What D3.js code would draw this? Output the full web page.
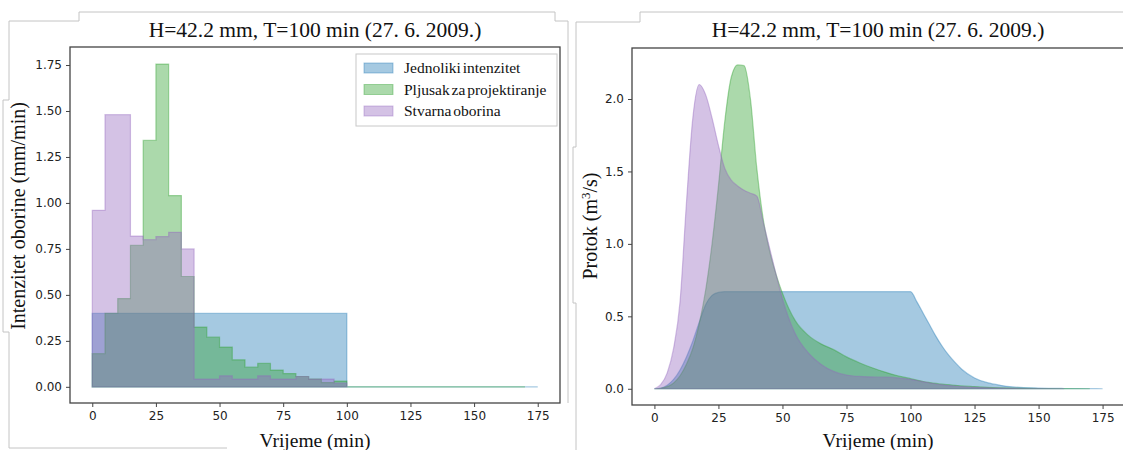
<!DOCTYPE html>
<html>
<head>
<meta charset="utf-8">
<script src="https://cdn.jsdelivr.net/npm/d3@7"></script>
<style>
  body { margin: 0; background: #fff; }
  svg { display: block; }
</style>
</head>
<body>
<div id="chart"></div>
<script>
// two panels: rainfall hyetographs (left) and runoff hydrographs (right)
const chartWidth = 1123;
const chartHeight = 450;

const seriesNames = ["Jednoliki intenzitet", "Pljusak za projektiranje", "Stvarna oborina"];
const seriesColors = ["#1f77b4", "#2ca02c", "#9467bd"];
const titleText = "H=42.2 mm, T=100 min (27. 6. 2009.)";

// rainfall, 5 min blocks starting at these times (mm/min)
const rainTime = [0, 5, 10, 15, 20, 25, 30, 35, 40, 45, 50, 55, 60, 65, 70, 75, 80, 85, 90, 95];
const rainUniform = [0.40, 0.40, 0.40, 0.40, 0.40, 0.40, 0.40, 0.40, 0.40, 0.40,
                     0.40, 0.40, 0.40, 0.40, 0.40, 0.40, 0.40, 0.40, 0.40, 0.40];
const rainDesign = [0.18, 0.40, 0.48, 0.77, 1.34, 1.755, 1.04, 0.60, 0.325, 0.27,
                    0.216, 0.147, 0.107, 0.127, 0.091, 0.072, 0.056, 0.042, 0.023, 0.031];
const rainObserved = [0.96, 1.48, 1.48, 0.82, 0.80, 0.817, 0.84, 0.75, 0.042, 0.042,
                      0.06, 0.042, 0.042, 0.06, 0.042, 0.042, 0.056, 0.042, 0.042, 0.02];
// where each zero tail ends (min)
const rainEnd = [175, 170, 100];

// runoff (m3/s)
const flowTime = [0, 2.5, 5, 7.5, 10, 12.5, 15, 17.5, 20, 22.5, 25, 27.5, 30, 32.5, 35, 37.5, 40, 42.5, 45, 47.5,
                  50, 55, 60, 65, 70, 75, 80, 85, 90, 95, 100, 102.5, 105, 107.5, 110, 112.5, 115, 117.5, 120,
                  125, 130, 135, 140, 150, 160, 170, 175];
const flowUniform = [0, 0.005, 0.025, 0.065, 0.13, 0.22, 0.33, 0.46, 0.58, 0.645, 0.665, 0.67, 0.67, 0.67, 0.67, 0.67, 0.67, 0.67, 0.67, 0.67,
                     0.67, 0.67, 0.67, 0.67, 0.67, 0.67, 0.67, 0.67, 0.67, 0.67, 0.67, 0.60, 0.52, 0.44, 0.36, 0.29, 0.23, 0.18, 0.135,
                     0.075, 0.042, 0.024, 0.013, 0.005, 0.002, 0.001, 0];
const flowDesign = [0, 0.003, 0.015, 0.04, 0.09, 0.17, 0.28, 0.45, 0.68, 1.0, 1.40, 1.85, 2.15, 2.235, 2.23, 2.0, 1.52, 1.17, 0.95, 0.79,
                    0.66, 0.47, 0.37, 0.31, 0.27, 0.22, 0.18, 0.145, 0.115, 0.09, 0.07, 0.06, 0.05, 0.043, 0.037, 0.032, 0.028, 0.024, 0.02,
                    0.015, 0.01, 0.007, 0.005, 0.002, 0.001, 0, null];
const flowObserved = [0, 0.03, 0.11, 0.28, 0.60, 1.28, 1.87, 2.10, 2.03, 1.87, 1.68, 1.52, 1.44, 1.40, 1.37, 1.35, 1.33, 1.15, 0.97, 0.79,
                      0.62, 0.38, 0.25, 0.17, 0.12, 0.095, 0.085, 0.082, 0.08, 0.075, 0.065, 0.057, 0.048, 0.04, 0.033, 0.027, 0.022, 0.018, 0.015,
                      0.01, 0.007, 0.005, 0.003, 0.001, 0, null, null];

const xTicks = [0, 25, 50, 75, 100, 125, 150, 175];
const rainTicks = [0, 0.25, 0.5, 0.75, 1.0, 1.25, 1.5, 1.75];
const flowTicks = [0, 0.5, 1.0, 1.5, 2.0];

const serif = "'Liberation Serif', 'Times New Roman', serif";
const sans = "'DejaVu Sans', sans-serif";

let svg = d3.select("#chart").append("svg")
            .attr("width", chartWidth)
            .attr("height", chartHeight);

// faint frame lines left over from the document the figures were pasted into
const frameLines = [
  [[9, 21], [79, 21], [79, 12], [555, 12], [555, 21], [568, 21], [568, 403]],
  [[9, 21], [9, 100], [3, 100], [3, 332], [9, 332], [9, 448], [227, 448]],
  [[1123, 12], [640, 12], [640, 22], [576, 22], [576, 147], [573, 147], [573, 303], [576, 303], [576, 450]]
];
svg.selectAll("polyline.frame")
   .data(frameLines)
   .enter().append("polyline")
   .attr("class", "frame")
   .attr("points", d => d.map(p => p.join(",")).join(" "))
   .style("fill", "none")
   .style("stroke", "#c4c4c4")
   .style("stroke-width", 1);

// scales
let xLeft = d3.scaleLinear().domain([-8.75, 183.75]).range([70, 560]);
let yLeft = d3.scaleLinear().domain([-0.088, 1.848]).range([403, 47]);
let xRight = d3.scaleLinear().domain([-8.75, 183.75]).range([632, 1125]);
let yRight = d3.scaleLinear().domain([-0.112, 2.352]).range([405, 48]);

// rainfall steps: block values, then zero until the series ends
function rainRows(values, end) {
  let rows = rainTime.map((t, i) => ({t: t, v: values[i]}));
  rows.push({t: 100, v: 0});
  if (end > 100) rows.push({t: end, v: 0});
  return rows;
}

const rainSeries = [rainUniform, rainDesign, rainObserved];
const flowSeries = [flowUniform, flowDesign, flowObserved];

let leftPlot = svg.append("g");
rainSeries.forEach(function(values, i) {
  let area = d3.area()
               .curve(d3.curveStepAfter)
               .x(d => xLeft(d.t))
               .y0(yLeft(0))
               .y1(d => yLeft(d.v));
  leftPlot.append("path")
          .datum(rainRows(values, rainEnd[i]))
          .attr("d", area)
          .style("fill", seriesColors[i])
          .style("fill-opacity", 0.4)
          .style("stroke", seriesColors[i])
          .style("stroke-opacity", 0.4)
          .style("stroke-width", 1.2);
});

let rightPlot = svg.append("g");
flowSeries.forEach(function(values, i) {
  let rows = flowTime.map((t, k) => ({t: t, v: values[k]})).filter(d => d.v !== null);
  let area = d3.area()
               .curve(d3.curveMonotoneX)
               .x(d => xRight(d.t))
               .y0(yRight(0))
               .y1(d => yRight(d.v));
  rightPlot.append("path")
           .datum(rows)
           .attr("d", area)
           .style("fill", seriesColors[i])
           .style("fill-opacity", 0.4)
           .style("stroke", seriesColors[i])
           .style("stroke-opacity", 0.4)
           .style("stroke-width", 1.2);
});

// axes
function styleAxis(g) {
  g.select(".domain").remove();
  g.selectAll(".tick line").style("stroke", "#444").style("stroke-width", 1);
  g.selectAll(".tick text")
   .style("font-family", sans)
   .style("font-size", "12px")
   .style("fill", "#222");
}

svg.append("g")
   .attr("transform", "translate(0,403)")
   .call(d3.axisBottom(xLeft).tickValues(xTicks).tickSize(4).tickPadding(4))
   .call(styleAxis);
svg.append("g")
   .attr("transform", "translate(70,0)")
   .call(d3.axisLeft(yLeft).tickValues(rainTicks).tickFormat(d3.format(".2f")).tickSize(4).tickPadding(4))
   .call(styleAxis);
svg.append("g")
   .attr("transform", "translate(0,405)")
   .call(d3.axisBottom(xRight).tickValues(xTicks).tickSize(4).tickPadding(4))
   .call(styleAxis);
svg.append("g")
   .attr("transform", "translate(632,0)")
   .call(d3.axisLeft(yRight).tickValues(flowTicks).tickFormat(d3.format(".1f")).tickSize(4).tickPadding(4))
   .call(styleAxis);

// spines
svg.append("rect")
   .attr("x", 70).attr("y", 47).attr("width", 490).attr("height", 356)
   .style("fill", "none").style("stroke", "#444").style("stroke-width", 1.3);
svg.append("rect")
   .attr("x", 632).attr("y", 48).attr("width", 493).attr("height", 357)
   .style("fill", "none").style("stroke", "#444").style("stroke-width", 1.3);

// titles and labels
[315, 878].forEach(function(cx) {
  svg.append("text")
     .attr("x", cx).attr("y", 37)
     .attr("text-anchor", "middle")
     .style("font-family", serif).style("font-size", "21.5px").style("fill", "#111")
     .text(titleText);
  svg.append("text")
     .attr("x", cx).attr("y", 447)
     .attr("text-anchor", "middle")
     .style("font-family", serif).style("font-size", "19.5px").style("fill", "#111")
     .text("Vrijeme (min)");
});

svg.append("text")
   .attr("transform", "translate(25,216) rotate(-90)")
   .attr("text-anchor", "middle")
   .style("font-family", serif).style("font-size", "20px").style("fill", "#111")
   .text("Intenzitet oborine (mm/min)");

let flowLabel = svg.append("text")
   .attr("transform", "translate(597,226) rotate(-90)")
   .attr("text-anchor", "middle")
   .style("font-family", serif).style("font-size", "20px").style("fill", "#111");
flowLabel.append("tspan").text("Protok (m");
flowLabel.append("tspan").attr("dy", -7).style("font-size", "13px").text("3");
flowLabel.append("tspan").attr("dy", 7).text("/s)");

// legend
let legend = svg.append("g").attr("transform", "translate(356,54)");
legend.append("rect")
      .attr("width", 201).attr("height", 72)
      .style("fill", "#fff").style("stroke", "#c8c8c8").style("stroke-width", 1);
let legendItem = legend.selectAll("g.item")
                       .data(seriesNames)
                       .enter().append("g")
                       .attr("class", "item")
                       .attr("transform", (d, i) => "translate(0," + (14 + i * 21.5) + ")");
legendItem.append("rect")
          .attr("x", 8).attr("y", -5).attr("width", 29).attr("height", 10)
          .style("fill", (d, i) => seriesColors[i]).style("fill-opacity", 0.4)
          .style("stroke", (d, i) => seriesColors[i]).style("stroke-opacity", 0.4);
legendItem.append("text")
          .attr("x", 48).attr("y", 5)
          .style("font-family", serif).style("font-size", "15.5px").style("fill", "#111")
          .style("word-spacing", "-2px")
          .text(d => d);
</script>
</body>
</html>
